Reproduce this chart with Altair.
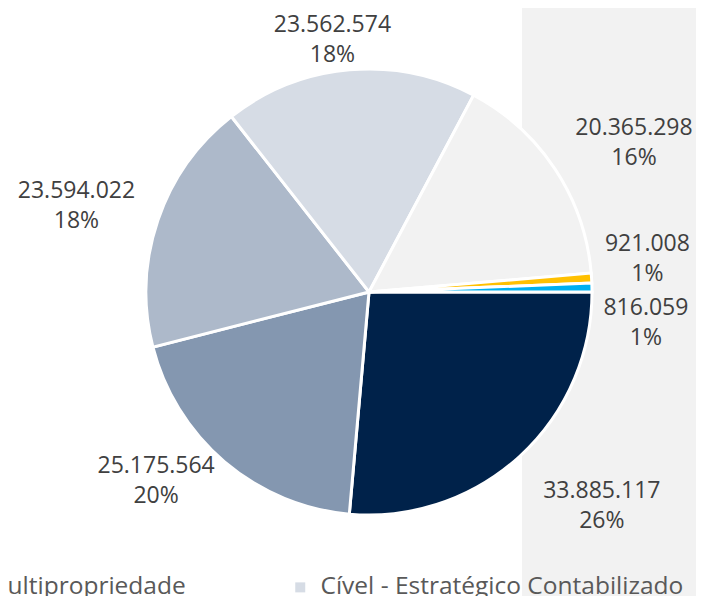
import math
import altair as alt
import pandas as pd

# ---- data ----
categories = [
    "Trabalhista",
    "Cível - Massa",
    "Multipropriedade",
    "Cível - Estratégico Contabilizado",
    "Tributário",
    "Regulatório",
    "Ambiental",
]
values = [33885117, 25175564, 23594022, 23562574, 20365298, 921008, 816059]
colors = ["#00224A", "#8497B0", "#ADB9CA", "#D6DCE5", "#F2F2F2", "#FFC000", "#00B0F0"]
legend_shown = ["Multipropriedade", "Cível - Estratégico Contabilizado"]

total = sum(values)


def fmt(v):
    return f"{v:,}".replace(",", ".")


df = pd.DataFrame({
    "categoria": categories,
    "valor": values,
    "ordem": list(range(len(values))),
    "rotulo": [f"{fmt(v)}\n{round(v / total * 100)}%" for v in values],
})

# ---- layout / style ----
W, H = 688, 588
CX, CY = 361, 284          # pie centre inside the view
R = 223                    # pie radius
LABEL_R = 290              # label distance from centre
LINE_SHIFT = -15           # centre the two-line label block on its anchor
# per-label nudges (dx, dy) for Excel-like "best fit" placement
nudges = [(37, 0), (-25, -32), (-18, 7), (-11, 37), (23, 11), (-11, -15), (-13, 37)]

theta_scale = alt.Scale(domain=[0, total], range=[math.pi / 2, math.pi / 2 + 2 * math.pi])
color_scale = alt.Scale(domain=categories, range=colors)

background = alt.Chart(pd.DataFrame({"a": [0]})).mark_rect(color="#F2F2F2").encode(
    x=alt.value(514), x2=alt.value(W), y=alt.value(0), y2=alt.value(H)
)

pie = alt.Chart(df).mark_arc(outerRadius=R, stroke="white", strokeWidth=3).encode(
    theta=alt.Theta("valor:Q", stack=True, scale=theta_scale),
    order=alt.Order("ordem:Q"),
    color=alt.Color(
        "categoria:N",
        scale=color_scale,
        legend=alt.Legend(
            values=legend_shown,
            orient="none",
            legendX=-55,
            legendY=567,
            direction="horizontal",
            title=None,
            symbolType="square",
            symbolSize=100,
            symbolStrokeWidth=0,
            labelFont="Open Sans",
            labelFontSize=24.5,
            labelColor="#595959",
            labelOffset=8,
            labelLimit=0,
            columnPadding=102,
            padding=0,
        ),
    ),
    x=alt.value(CX),
    y=alt.value(CY),
)

label_layers = []
for i, (dx, dy) in enumerate(nudges):
    lbl = alt.Chart(df).transform_window(
        cum="sum(valor)", sort=[alt.SortField("ordem")], frame=[None, 0]
    ).transform_calculate(
        mid="datum.cum - datum.valor / 2"
    ).transform_filter(
        alt.datum.ordem == i
    ).mark_text(
        font="Open Sans",
        fontSize=23,
        color="#404040",
        lineBreak="\n",
        lineHeight=30,
        radius=LABEL_R,
        align="center",
        baseline="middle",
        dx=dx,
        dy=dy + LINE_SHIFT,
    ).encode(
        theta=alt.Theta("mid:Q", stack=None, scale=theta_scale),
        text="rotulo:N",
        x=alt.value(CX),
        y=alt.value(CY),
    )
    label_layers.append(lbl)

chart = alt.layer(background, pie, *label_layers).properties(
    width=W,
    height=H,
    autosize=alt.AutoSizeParams(type="none"),
    padding=0,
).configure_view(stroke=None)

chart.save("out.html", embed_options={"renderer": "svg", "actions": False})
